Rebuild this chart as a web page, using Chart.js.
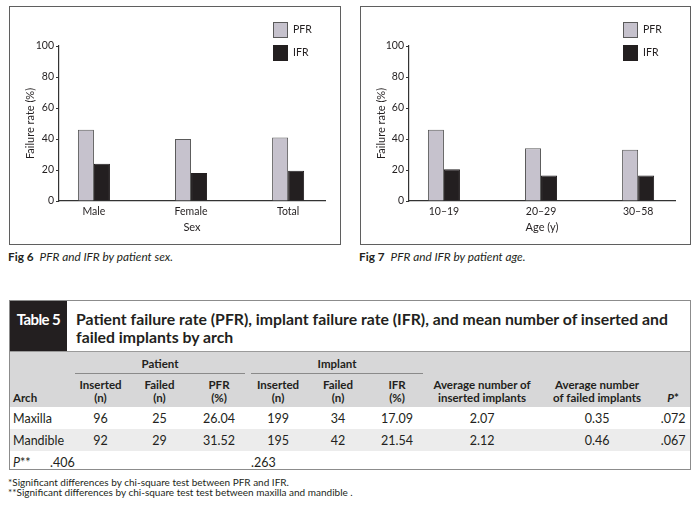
<!DOCTYPE html>
<html>
<head>
<meta charset="utf-8">
<script src="https://cdn.jsdelivr.net/npm/chart.js@4"></script>
<style>
  body { margin: 0; background: #fff; font-family: Lato, "Open Sans", sans-serif; color: #231f20; }
  #page { position: relative; width: 700px; height: 505px; overflow: hidden; }
  .box { position: absolute; top: 6px; height: 239px; border: 1px solid #5f5f5f; box-sizing: border-box; }
  .box canvas { position: absolute; left: 0; top: 0; }
  .cap { position: absolute; top: 250px; font-size: 11.8px; line-height: 14px; }
  .cap b { font-weight: 700; margin-right: 6px; }
  #tbl { position: absolute; left: 9px; top: 300px; width: 682px; height: 170px; border: 1px solid #8c8c8c; box-sizing: border-box; }
  #ttl { height: 50px; position: relative; }
  #tag { position: absolute; left: 0; top: 0; width: 57px; height: 50px; background: #231f20; color: #fff;
         font-weight: 700; font-size: 15px; letter-spacing: -0.6px; text-align: center; line-height: 36px; }
  #ttxt { position: absolute; left: 66px; top: 9px; font-weight: 700; font-size: 15.8px; line-height: 18px; white-space: nowrap; }
  table { border-collapse: collapse; table-layout: fixed; width: 680px; font-size: 12.5px; }
  td { padding: 0; text-align: center; white-space: nowrap; }
  thead td { background: #d7d7d8; font-weight: 700; font-size: 11.5px; line-height: 13px; vertical-align: bottom; }
  thead tr.r1 td { height: 22px; border-top: 1px solid #9a9a9a; }
  thead tr.r2 td { height: 30px; padding-bottom: 3px; }
  .grp { border-bottom: 1px solid #8a8a8a; margin: 0 3px; padding-bottom: 3px; }
  tbody td { height: 22px; }
  tbody tr.alt td { background: #ececec; }
  .l { text-align: left; padding-left: 3px; }
  .fn { position: absolute; left: 8px; top: 477px; font-size: 10px; line-height: 10px; }
</style>
</head>
<body>
<div id="page">
  <div class="box" style="left:9px;width:332px;"><canvas id="figSex" width="330" height="237"></canvas></div>
  <div class="box" style="left:360px;width:331px;"><canvas id="figAge" width="329" height="237"></canvas></div>
  <div class="cap" style="left:8px;"><b>Fig 6</b><i>PFR and IFR by patient sex.</i></div>
  <div class="cap" style="left:359px;"><b>Fig 7</b><i>PFR and IFR by patient age.</i></div>

  <div id="tbl">
    <div id="ttl">
      <div id="tag">Table 5</div>
      <div id="ttxt">Patient failure rate (PFR), implant failure rate (IFR), and mean number of inserted and<br>failed implants by arch</div>
    </div>
    <table>
      <colgroup>
        <col style="width:62px"><col style="width:57px"><col style="width:61px"><col style="width:58px">
        <col style="width:60px"><col style="width:60px"><col style="width:58px">
        <col style="width:112px"><col style="width:118px"><col style="width:34px">
      </colgroup>
      <thead>
        <tr class="r1">
          <td class="l" rowspan="2" style="padding-bottom:3px">Arch</td>
          <td colspan="3"><div class="grp">Patient</div></td>
          <td colspan="3"><div class="grp">Implant</div></td>
          <td colspan="3"></td>
        </tr>
        <tr class="r2">
          <td>Inserted<br>(n)</td><td>Failed<br>(n)</td><td>PFR<br>(%)</td>
          <td>Inserted<br>(n)</td><td>Failed<br>(n)</td><td>IFR<br>(%)</td>
          <td>Average number of<br>inserted implants</td><td>Average number<br>of failed implants</td><td><i>P</i>*</td>
        </tr>
      </thead>
      <tbody>
        <tr>
          <td class="l">Maxilla</td><td>96</td><td>25</td><td>26.04</td><td>199</td><td>34</td><td>17.09</td><td>2.07</td><td>0.35</td><td>.072</td>
        </tr>
        <tr class="alt">
          <td class="l">Mandible</td><td>92</td><td>29</td><td>31.52</td><td>195</td><td>42</td><td>21.54</td><td>2.12</td><td>0.46</td><td>.067</td>
        </tr>
        <tr>
          <td class="l" style="height:18px"><i>P</i>**</td>
          <td colspan="3" class="l"><span style="position:relative;left:-25px">.406</span></td>
          <td colspan="3" class="l">.263</td>
          <td colspan="3"></td>
        </tr>
      </tbody>
    </table>
  </div>
  <div class="fn">*Significant differences by chi-square test between PFR and IFR.<br>**Significant differences by chi-square test test between maxilla and mandible .</div>
</div>

<script>
// values (%)
const sexLabels = ['Male', 'Female', 'Total'];
const sexPFR = [46, 40, 41];
const sexIFR = [24, 18, 19.5];

const ageLabels = ['10–19', '20–29', '30–58'];
const agePFR = [46, 34, 33];
const ageIFR = [20.5, 16.5, 16.5];

const seriesNames = ['PFR', 'IFR'];
const yTickValues = [0, 20, 40, 60, 80, 100];

Chart.defaults.font.family = 'Lato, "Open Sans", sans-serif';
Chart.defaults.font.size = 10.5;
Chart.defaults.color = '#231f20';

// legend drawn as a small stacked key in the top right corner
const boxLegend = {
    id: 'boxLegend',
    afterDraw(chart) {
        const ctx = chart.ctx;
        const area = chart.chartArea;
        chart.data.datasets.forEach(function(ds, i) {
            const x = area.right - 52;
            const y = area.top - 24 + i * 23;
            ctx.save();
            ctx.fillStyle = ds.backgroundColor;
            ctx.fillRect(x, y, 15, 16);
            ctx.strokeStyle = ds.borderColor;
            ctx.lineWidth = 1;
            ctx.strokeRect(x + 0.5, y + 0.5, 14, 15);
            ctx.fillStyle = '#231f20';
            ctx.font = '10.5px Lato, "Open Sans", sans-serif';
            ctx.textBaseline = 'middle';
            ctx.fillText(ds.label, x + 20, y + 8);
            ctx.restore();
        });
    }
};

function makeChart(id, labels, pfr, ifr, xTitle, leftW) {
    const pts = function(vals) {
        return vals.map(function(v, i) { return {x: i + 1, y: v}; });
    };
    return new Chart(document.getElementById(id), {
        type: 'bar',
        data: {
            datasets: [
                {label: seriesNames[0], data: pts(pfr), backgroundColor: '#c6c2cd', borderColor: '#5a5a5a', borderWidth: 1},
                {label: seriesNames[1], data: pts(ifr), backgroundColor: '#231f20', borderColor: '#231f20', borderWidth: 1}
            ]
        },
        options: {
            responsive: false,
            animation: false,
            categoryPercentage: 0.33,
            barPercentage: 1,
            layout: {padding: {top: 39, right: 15, left: 0, bottom: 0}},
            plugins: {legend: {display: false}, tooltip: {enabled: false}},
            scales: {
                x: {
                    type: 'linear',
                    offset: false,
                    bounds: 'data',
                    min: 0.64,
                    max: 3.38,
                    afterDataLimits: function(axis) { axis.min = 0.64; axis.max = 3.38; },
                    afterBuildTicks: function(axis) {
                        axis.ticks = labels.map(function(l, i) { return {value: i + 1}; });
                    },
                    afterFit: function(axis) { axis.height = 43; },
                    ticks: {
                        padding: 4,
                        callback: function(v) { return labels[v - 1]; }
                    },
                    grid: {display: false, drawTicks: false},
                    border: {display: true, color: '#333', width: 1.2},
                    title: {display: true, text: xTitle, padding: {top: 0, bottom: 10}, font: {size: 11}}
                },
                y: {
                    min: 0,
                    max: 100,
                    afterBuildTicks: function(axis) {
                        axis.ticks = yTickValues.map(function(v) { return {value: v}; });
                    },
                    afterFit: function(axis) { axis.width = leftW; },
                    ticks: {padding: 2},
                    grid: {drawOnChartArea: false, drawTicks: true, tickLength: 3, color: '#333', lineWidth: 1},
                    border: {display: true, color: '#333', width: 1.2},
                    title: {display: true, text: 'Failure rate (%)', padding: {top: 14, bottom: 0}, font: {size: 11}}
                }
            }
        },
        plugins: [boxLegend]
    });
}

makeChart('figSex', sexLabels, sexPFR, sexIFR, 'Sex', 49);
makeChart('figAge', ageLabels, agePFR, ageIFR, 'Age (y)', 48);
</script>
</body>
</html>
